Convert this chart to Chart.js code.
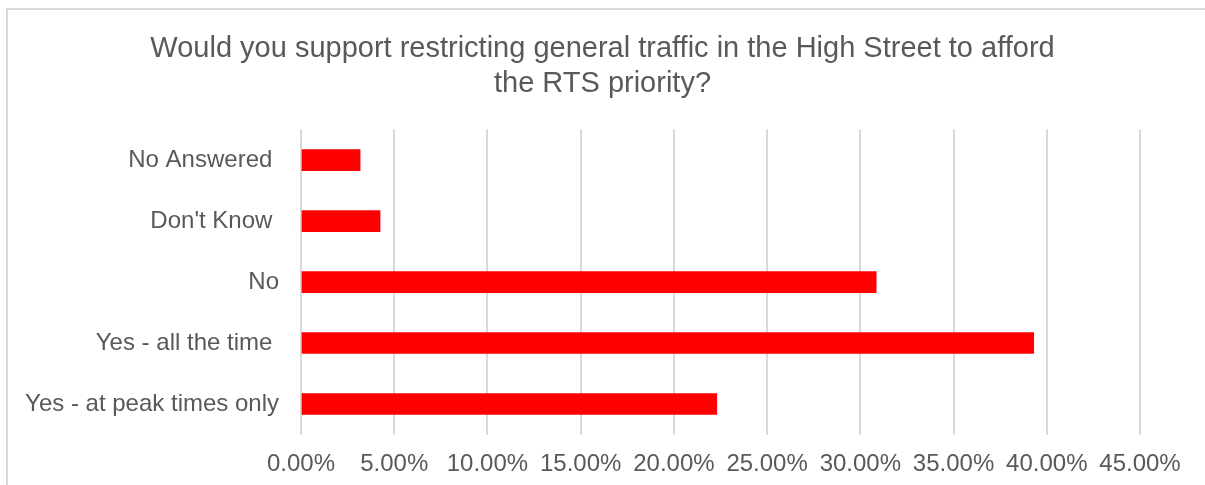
<!DOCTYPE html>
<html>
<head>
<meta charset="utf-8">
<script src="https://cdn.jsdelivr.net/npm/chart.js@4"></script>
<style>
    html, body { margin: 0; padding: 0; background: #fff; overflow: hidden; }
    #frame {
        position: absolute; left: 6px; top: 8px;
        width: 1220px; height: 500px;
        border: 2px solid #d9d9d9;
    }
    #chart { position: absolute; left: 0; top: 0; }
</style>
</head>
<body>
<div id="frame"></div>
<canvas id="chart" width="1205" height="485"></canvas>
<script>
// ===== DATA ===== //
const categories = ['No Answered ', "Don't Know ", 'No', 'Yes - all the time ', 'Yes - at peak times only'];
const shares = [3.17, 4.24, 30.85, 39.3, 22.3]; // percent of respondents
const axisMax = 45;
const axisStep = 5;
const titleLines = [
    'Would you support restricting general traffic in the High Street to afford',
    'the RTS priority?'
];

const textColor = '#595959';
const gridColor = '#d9d9d9';
const fontFamily = '"Liberation Sans", Arial, sans-serif';

// ===== CHART ===== //
const ctx = document.getElementById('chart').getContext('2d');
new Chart(ctx, {
    type: 'bar',
    data: {
        labels: categories,
        datasets: [{
            data: shares,
            backgroundColor: '#ff0000',
            borderWidth: 0,
            barThickness: 21
        }]
    },
    options: {
        indexAxis: 'y',
        responsive: false,
        animation: false,
        layout: { padding: 0 },
        plugins: {
            legend: { display: false },
            tooltip: { enabled: false },
            title: {
                display: true,
                text: titleLines,
                color: textColor,
                font: { family: fontFamily, size: 29, weight: 'normal', lineHeight: 1.2 },
                padding: { top: 32, bottom: 28 }
            }
        },
        scales: {
            x: {
                min: 0,
                max: axisMax,
                ticks: {
                    stepSize: axisStep,
                    color: textColor,
                    padding: 15,
                    maxRotation: 0,
                    font: { family: fontFamily, size: 24 },
                    callback: v => v.toFixed(2) + '%'
                },
                grid: { color: gridColor, lineWidth: 2, drawTicks: false },
                border: { display: false },
                afterFit: scale => { scale.height = 50.5; }
            },
            y: {
                ticks: {
                    color: textColor,
                    padding: 22,
                    font: { family: fontFamily, size: 24 }
                },
                grid: { display: false, drawTicks: false },
                border: { display: false },
                afterFit: scale => { scale.width = 301; }
            },
            // empty right-hand spacer so the plot ends at 45% while the title stays centred
            spacer: {
                type: 'linear',
                axis: 'y',
                position: 'right',
                grid: { display: false, drawTicks: false },
                ticks: { display: false },
                border: { display: false },
                afterFit: scale => { scale.width = 65; }
            }
        }
    }
});
</script>
</body>
</html>
